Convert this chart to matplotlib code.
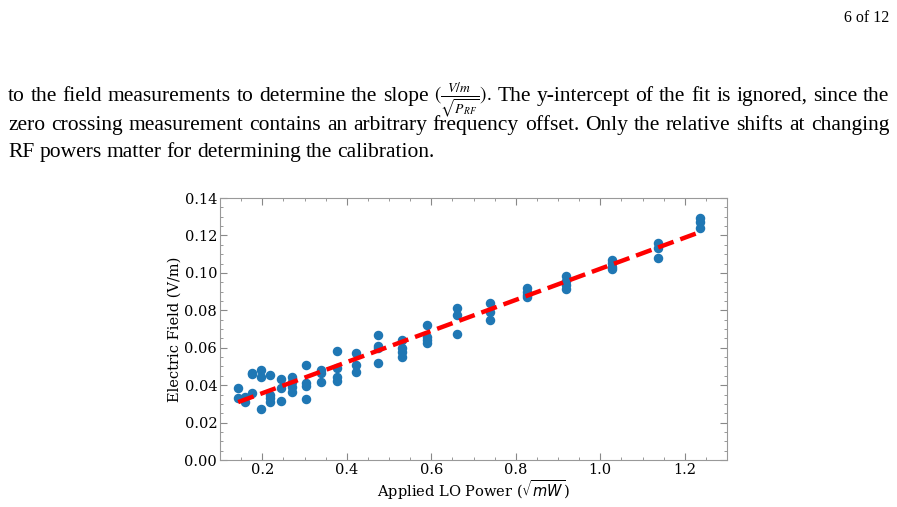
import matplotlib
matplotlib.use("Agg")
import matplotlib.pyplot as plt
from matplotlib.ticker import MultipleLocator
import numpy as np

plt.rcParams['font.family'] = 'DejaVu Serif'

# sqrt(mW) values of the LO power steps and the measured fields at each step
lo_power = [0.143, 0.159, 0.176, 0.196, 0.218, 0.244, 0.271, 0.303, 0.339, 0.378, 0.422,
            0.473, 0.530, 0.591, 0.660, 0.739, 0.826, 0.920, 1.028, 1.137, 1.236]
field = [
    [0.0383, 0.0330],
    [0.0338, 0.0312],
    [0.0467, 0.0458, 0.0356],
    [0.0481, 0.0445, 0.0271],
    [0.0454, 0.0347, 0.0330, 0.0312],
    [0.0431, 0.0383, 0.0315],
    [0.0442, 0.0419, 0.0392, 0.0365],
    [0.0508, 0.0410, 0.0397, 0.0326],
    [0.0481, 0.0463, 0.0415],
    [0.0584, 0.0490, 0.0445, 0.0424],
    [0.0570, 0.0508, 0.0469],
    [0.0668, 0.0609, 0.0600, 0.0517],
    [0.0641, 0.0597, 0.0579, 0.0552],
    [0.0722, 0.0659, 0.0641, 0.0624],
    [0.0811, 0.0775, 0.0673],
    [0.0841, 0.0793, 0.0748],
    [0.0918, 0.0900, 0.0882, 0.0873],
    [0.0983, 0.0957, 0.0935, 0.0914],
    [0.1069, 0.1051, 0.1033, 0.1021],
    [0.1161, 0.1131, 0.1081],
    [0.1292, 0.1274, 0.1238],
]

xs = np.concatenate([[p] * len(f) for p, f in zip(lo_power, field)])
ys = np.concatenate(field)
slope, intercept = np.polyfit(xs, ys, 1)
fit_x = np.array([min(lo_power), max(lo_power)])

fig = plt.figure(figsize=(8.97, 5.07), dpi=100)

# page text around the figure
fig.text(889 / 897, 1 - 22 / 507, "6 of 12", ha="right", va="baseline",
         fontsize=11.5, family="Liberation Serif")

lines = [
    ["to", "the", "field", "measurements", "to", "determine", "the", "slope",
     r"$(\frac{V/m}{\sqrt{P_{RF}}})$.", "The", "y-intercept", "of", "the", "fit",
     "is", "ignored,", "since", "the"],
    "zero crossing measurement contains an arbitrary frequency offset. Only the relative shifts at changing".split(),
    "RF powers matter for determining the calibration.".split(),
]
baselines = [101, 130, 157]
left_px, right_px = 8, 889
renderer = fig.canvas.get_renderer()
for words, base in zip(lines, baselines, strict=True):
    texts = [fig.text(0, 1 - base / 507, w, fontsize=14 if "$" in w else 15.5,
                      family="Liberation Serif", math_fontfamily="stix",
                      va="baseline") for w in words]
    widths = [t.get_window_extent(renderer).width for t in texts]
    if words is lines[-1]:
        space = 5
    else:
        space = (right_px - left_px - sum(widths)) / (len(words) - 1)
    x = left_px
    for t, w in zip(texts, widths):
        t.set_x(x / 897)
        x += w + space

ax = fig.add_axes([220 / 897, 1 - 460 / 507, 507 / 897, 262 / 507])
ax.scatter(xs, ys, s=34, color="#1f77b4", zorder=2)
ax.plot(fit_x, slope * fit_x + intercept, "--", color="red", lw=3.2, zorder=3)

ax.set_xlim(0.1, 1.3)
ax.set_ylim(0, 0.14)
ax.xaxis.set_minor_locator(MultipleLocator(0.05))
ax.yaxis.set_minor_locator(MultipleLocator(0.005))
ax.tick_params(which="both", direction="in", top=True, right=True, color="#888888",
               labelsize=10.5, pad=2)
ax.tick_params(which="major", length=5)
ax.tick_params(which="minor", length=2.5)
for s in ax.spines.values():
    s.set_color("#999999")
ax.set_xlabel(r"Applied LO Power ($\sqrt{mW}$)", fontsize=10.5, labelpad=1)
ax.set_ylabel("Electric Field (V/m)", fontsize=10.5, labelpad=2)

fig.savefig("out.png", dpi=100)
